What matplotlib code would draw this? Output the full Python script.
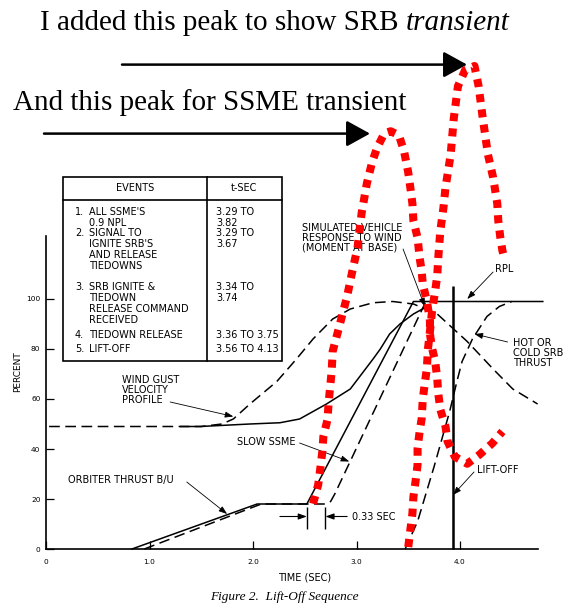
import matplotlib
matplotlib.use("Agg")
import matplotlib.pyplot as plt
from matplotlib.patches import Rectangle
from matplotlib.lines import Line2D

W, H = 563, 607

# ---- curves: time (s) / percent ----
orbiter_t = [0.83, 2.04, 2.52, 3.55, 4.80]
orbiter_pct = [0, 18, 18, 99, 99]

slow_t = [0.95, 2.08, 2.70, 2.75, 2.79, 3.67]
slow_pct = [0, 18, 18, 19, 22, 99]

wind_t = [0.03, 0.5, 1.0, 1.5, 1.7, 1.81, 1.97, 2.23, 2.42, 2.58, 2.77, 2.94,
          3.16, 3.35, 3.55, 3.78, 4.07, 4.32, 4.51, 4.75]
wind_pct = [49, 49, 49, 49, 50, 52, 58, 67, 76, 84, 92, 96,
            98.5, 99, 98, 94, 83, 72, 64, 58]

resp_t = [1.3, 1.49, 1.97, 2.26, 2.45, 2.71, 2.94, 3.05, 3.16, 3.23, 3.32,
          3.42, 3.55, 3.66]
resp_pct = [49, 49, 50, 50.5, 52, 58, 64, 70, 76, 80, 86, 90, 94, 96.5]

srb_t = [3.47, 3.59, 3.75, 3.90, 3.97, 4.02, 4.12, 4.26, 4.38, 4.50]
srb_pct = [0, 11, 33, 55, 67, 75, 84, 93, 97, 99]

liftoff_t = 3.93
liftoff_top = 105

# hand-drawn red transients
ssme_red_t = [2.58, 2.63, 2.65, 2.67, 2.68, 2.72, 2.73, 2.76, 2.77, 2.84, 2.91,
              2.96, 3.01, 3.05, 3.10, 3.15, 3.20, 3.27, 3.33, 3.41, 3.46, 3.50,
              3.52, 3.54, 3.55, 3.59, 3.61, 3.63, 3.64, 3.68, 3.71, 3.71, 3.73,
              3.76, 3.78, 3.79, 3.81, 3.86, 3.88, 3.95, 4.07, 4.19, 4.31, 4.41]
ssme_red_pct = [18.1, 25.7, 32.1, 39.0, 45.0, 51.8, 58.2, 71.1, 79.1, 90.0,
                101.2, 111.2, 120.5, 134.5, 146.2, 154.6, 160.6, 166.3, 167.1,
                165.5, 159.0, 150.6, 144.6, 138.2, 131.3, 124.5, 116.5, 111.2,
                106.0, 99.2, 91.2, 85.9, 80.3, 75.1, 68.3, 62.2, 55.8, 49.0,
                43.0, 36.9, 34.1, 37.8, 42.2, 47.0]

srb_red_t = [3.50, 3.52, 3.54, 3.55, 3.57, 3.59, 3.59, 3.61, 3.63, 3.64, 3.66,
             3.68, 3.69, 3.71, 3.73, 3.76, 3.78, 3.79, 3.81, 3.84, 3.86, 3.91,
             3.94, 3.98, 4.05, 4.14, 4.18, 4.22, 4.27, 4.32, 4.34, 4.36, 4.37,
             4.39, 4.41, 4.43]
srb_red_pct = [0.8, 7.6, 14.1, 20.9, 26.9, 33.7, 40.2, 47.0, 52.2, 59.8, 66.3,
               72.3, 79.9, 87.1, 95.2, 103.2, 109.2, 116.5, 127.3, 136.5, 144.6,
               157.8, 172.3, 185.1, 191.6, 193.2, 185.1, 172.3, 157.8, 148.6,
               143.4, 138.2, 131.3, 124.5, 119.3, 116.1]

# ---- ticks ----
x_ticks = [0, 1, 2, 3, 4]
x_labels = ["0", "1.0", "2.0", "3.0", "4.0"]
y_ticks = [0, 20, 40, 60, 80, 100]

# ---- event table ----
event_nums = ["1.", "2.", "3.", "4.", "5."]
event_texts = [["ALL SSME'S", "0.9 NPL"],
               ["SIGNAL TO", "IGNITE SRB'S", "AND RELEASE", "TIEDOWNS"],
               ["SRB IGNITE &", "TIEDOWN", "RELEASE COMMAND", "RECEIVED"],
               ["TIEDOWN RELEASE"],
               ["LIFT-OFF"]]
event_times = [["3.29 TO", "3.82"], ["3.29 TO", "3.67"], ["3.34 TO", "3.74"],
               ["3.36 TO 3.75"], ["3.56 TO 4.13"]]
row_y = [212, 233, 287, 335, 349]


def fp(x, y):
    # pixel position -> figure fraction
    return (x / W, 1 - y / H)


fig = plt.figure(figsize=(W / 100, H / 100), dpi=100)
ax = fig.add_axes([0, 0, 1, 1])
ax.set_facecolor("white")

dash = (0, (7, 3.6))
ax.plot(orbiter_t, orbiter_pct, color="black", lw=1.1)
ax.plot(slow_t, slow_pct, color="black", lw=1.1, linestyle=dash)
ax.plot(wind_t, wind_pct, color="black", lw=1.1, linestyle=dash)
ax.plot(resp_t, resp_pct, color="black", lw=1.1)
ax.plot(srb_t, srb_pct, color="black", lw=1.1, linestyle=dash)
ax.vlines(liftoff_t, 0, liftoff_top, color="black", lw=1.8)

ax.plot(ssme_red_t, ssme_red_pct, color="red", lw=5.8,
        linestyle=(0, (1, 0.9)), dash_capstyle="butt", zorder=5)
ax.plot(srb_red_t, srb_red_pct, color="red", lw=5.8,
        linestyle=(0, (1, 0.9)), dash_capstyle="butt", zorder=5)

# axes frame
for side in ["top", "right"]:
    ax.spines[side].set_visible(False)
ax.spines["left"].set_position(("data", 0))
ax.spines["bottom"].set_position(("data", 0))
ax.spines["left"].set_bounds(0, 125)
ax.spines["bottom"].set_bounds(0, 4.75)
ax.spines["left"].set_linewidth(1.2)
ax.spines["bottom"].set_linewidth(1.2)
ax.set_xticks(x_ticks)
ax.set_xticklabels(x_labels)
ax.set_yticks(y_ticks)
ax.set_yticklabels([str(v) for v in y_ticks])
ax.tick_params(axis="both", direction="in", length=6, width=0.9,
               labelsize=5.3)
ax.tick_params(axis="x", pad=7)
ax.tick_params(axis="y", pad=4)

ax.set_xlim(-46 / 103.5, (W - 46) / 103.5)
ax.set_ylim((549 - H) / 2.5, 549 / 2.5)


# ---- labels with pointers ----
def pointer(tail, head, lw=0.6):
    ax.annotate("", xy=head, xytext=tail,
                arrowprops=dict(arrowstyle="-|>,head_length=0.5,head_width=0.18",
                                mutation_scale=10, lw=lw, color="black",
                                shrinkA=0, shrinkB=0))


lab = dict(fontsize=7, va="center", ha="left", linespacing=0.95)
ax.text(0.734, 63.6, "WIND GUST\nVELOCITY\nPROFILE", **lab)
pointer((1.20, 58.8), (1.81, 53))
ax.text(0.213, 27.6, "ORBITER THRUST B/U", **lab)
pointer((1.36, 26.8), (1.75, 14))
ax.text(1.845, 42.8, "SLOW SSME", **lab)
pointer((2.45, 42.4), (2.93, 35))
ax.text(2.473, 124.4, "SIMULATED VEHICLE\nRESPONSE TO WIND\n(MOMENT AT BASE)", **lab)
pointer((3.45, 120), (3.66, 97))
ax.text(4.338, 112, "RPL", **lab)
pointer((4.32, 110.8), (4.07, 100))
ax.text(4.512, 78.4, "HOT OR\nCOLD SRB\nTHRUST", **lab)
pointer((4.46, 82.8), (4.14, 86))
ax.text(4.164, 31.6, "LIFT-OFF", **lab)
pointer((4.135, 30.8), (3.932, 21.6))

# 0.33 sec spacing
ax.vlines([orbiter_t[2], slow_t[2]], 8, 17, color="black", lw=1.0)
pointer((2.26, 13), (orbiter_t[2], 13), lw=0.8)
pointer((2.91, 13), (slow_t[2], 13), lw=0.8)
ax.text(2.957, 12.8, "0.33 SEC", **lab)

fig.text(*fp(18, 372), "PERCENT", rotation=90, fontsize=6.5,
         ha="center", va="center")
fig.text(*fp(305, 578), "TIME (SEC)", fontsize=7, ha="center", va="center")
fig.text(*fp(284, 597), "Figure 2.  Lift-Off Sequence", fontsize=9.5,
         family="Liberation Serif", style="italic", ha="center", va="center")

# ---- event table ----
ft = fig.transFigure
x0, y0 = fp(63, 361)
x1, y1 = fp(282, 177)
fig.add_artist(Rectangle((x0, y0), x1 - x0, y1 - y0, fill=False,
                         lw=1.2, edgecolor="black", transform=ft))
fig.add_artist(Line2D([x0, x1], [fp(0, 200)[1]] * 2, lw=1.2, color="black",
                      transform=ft))
fig.add_artist(Line2D([fp(207, 0)[0]] * 2, [y0, y1], lw=1.2, color="black",
                      transform=ft))
tab = dict(fontsize=7, va="center")
fig.text(*fp(135, 188), "EVENTS", ha="center", **tab)
fig.text(*fp(244, 188), "t-SEC", ha="center", **tab)
for num, lines, times, yy in zip(event_nums, event_texts, event_times, row_y):
    fig.text(*fp(75, yy), num, ha="left", **tab)
    for i, line in enumerate(lines):
        fig.text(*fp(89, yy + 11 * i), line, ha="left", **tab)
    for i, line in enumerate(times):
        fig.text(*fp(216, yy + 11 * i), line, ha="left", **tab)

# ---- hand-written notes on top ----
serif = dict(fontsize=21, family="Liberation Serif", va="baseline")
t1 = fig.text(*fp(39.5, 30.5), "I added this peak to show SRB ", ha="left", **serif)
fig.text(*fp(12.6, 109.5), "And this peak for SSME transient", ha="left", **serif)
ax.annotate("transient", xy=(1, 0), xycoords=t1, ha="left", va="bottom",
            fontsize=21, family="Liberation Serif", style="italic")

big = dict(arrowstyle="-|>,head_length=1.45,head_width=0.8", mutation_scale=10,
           lw=1.8, color="black", shrinkA=0, shrinkB=0)
ax.annotate("", xy=fp(467, 64.6), xytext=fp(122, 64.6),
            xycoords="figure fraction", textcoords="figure fraction",
            arrowprops=big)
ax.annotate("", xy=fp(370, 133.6), xytext=fp(44, 133.6),
            xycoords="figure fraction", textcoords="figure fraction",
            arrowprops=big)

fig.savefig("out.png", dpi=100)
